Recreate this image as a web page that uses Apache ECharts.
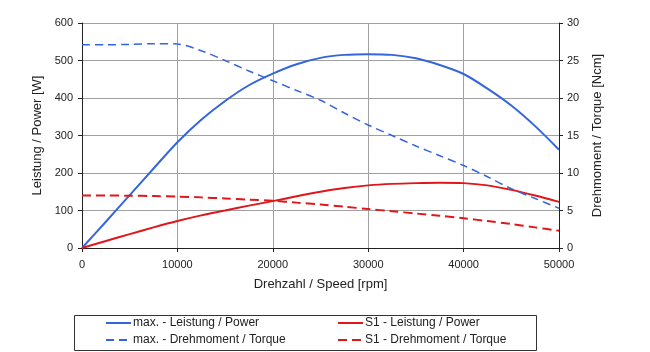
<!DOCTYPE html>
<html>
<head>
<meta charset="utf-8">
<script src="https://cdn.jsdelivr.net/npm/echarts@6/dist/echarts.min.js"></script>
<style>
  html, body { margin: 0; padding: 0; background: #fff; }
  #chart { width: 650px; height: 352px; }
</style>
</head>
<body>
<div id="chart"></div>
<script>
// Drehzahl in rpm
const speed = [0, 2500, 5000, 7500, 10000, 12500, 15000, 17500, 20000, 22500, 25000,
  27500, 30000, 32500, 35000, 37500, 40000, 42500, 45000, 47500, 50000];
// Leistung [W]
const maxPower = [0, 70, 141, 212, 282, 342, 392, 434, 465, 490, 507,
  515, 517, 515, 506, 488, 464, 425, 380, 325, 262];
const s1Power = [0, 18.5, 37, 55, 72, 87, 100, 113, 125, 138, 150,
  160, 167, 171, 173, 174, 173, 167, 155, 140, 123];
// Drehmoment [Ncm]
const maxTorque = [27.1, 27.1, 27.15, 27.25, 27.2, 26.3, 25.0, 23.6, 22.3, 21.0, 19.7,
  18.0, 16.4, 15.0, 13.6, 12.3, 11.0, 9.5, 7.9, 6.6, 5.3];
const s1Torque = [7.0, 7.0, 6.97, 6.93, 6.85, 6.75, 6.6, 6.45, 6.3, 6.05, 5.8,
  5.5, 5.2, 4.9, 4.6, 4.3, 3.96, 3.6, 3.2, 2.75, 2.3];

const names = ['max. - Leistung / Power', 'S1 - Leistung / Power',
  'max. - Drehmoment / Torque', 'S1 - Drehmoment / Torque'];

const blue = '#3565dc';
const red = '#e0161a';
const font = 'Liberation Sans, Arial, sans-serif';

const pairs = (ys) => speed.map((x, i) => [x, ys[i]]);

let myChart = echarts.init(document.getElementById('chart'));

let legendBase = {
  orient: 'vertical', top: 317, padding: 0, itemGap: 5,
  itemWidth: 25, itemHeight: 12, icon: 'inherit',
  itemStyle: { opacity: 0 },
  textStyle: { fontSize: 12, color: '#222', fontFamily: font, padding: [0, 0, 0, -3] }
};

let option = {
  animation: false,
  textStyle: { fontFamily: font },
  grid: { left: 82, right: 91, top: 23, bottom: 104 },
  xAxis: {
    type: 'value', min: 0, max: 50000, interval: 10000,
    name: 'Drehzahl / Speed [rpm]', nameLocation: 'middle', nameGap: 30,
    nameTextStyle: { fontSize: 13, color: '#222', fontFamily: font },
    axisLine: { lineStyle: { color: '#222' } },
    axisTick: { show: true, length: 4, lineStyle: { color: '#222' } },
    axisLabel: { fontSize: 11, color: '#222', margin: 11, fontFamily: font,
      formatter: (v) => String(v) },
    splitLine: { show: true, lineStyle: { color: '#a0a0a0', width: 1 } }
  },
  yAxis: [
    {
      type: 'value', min: 0, max: 600, interval: 100, position: 'left',
      name: 'Leistung / Power [W]', nameLocation: 'middle', nameGap: 35,
      nameTextStyle: { fontSize: 13, color: '#222', fontFamily: font },
      axisLine: { show: true, lineStyle: { color: '#222' } },
      axisTick: { show: true, length: 4, lineStyle: { color: '#222' } },
      axisLabel: { fontSize: 11, color: '#222', margin: 9, fontFamily: font },
      splitLine: { show: true, lineStyle: { color: '#a0a0a0', width: 1 } }
    },
    {
      type: 'value', min: 0, max: 30, interval: 5, position: 'right',
      name: 'Drehmoment / Torque [Ncm]', nameLocation: 'middle', nameGap: 32,
      nameTextStyle: { fontSize: 13, color: '#222', fontFamily: font },
      axisLine: { show: true, lineStyle: { color: '#222' } },
      axisTick: { show: true, length: 4, lineStyle: { color: '#222' } },
      axisLabel: { fontSize: 11, color: '#222', margin: 8, fontFamily: font },
      splitLine: { show: false }
    }
  ],
  legend: [
    Object.assign({}, legendBase, { left: 105, data: [names[0], names[2]] }),
    Object.assign({}, legendBase, { left: 337, data: [names[1], names[3]] })
  ],
  graphic: [
    {
      type: 'rect', left: 72, top: 313,
      shape: { width: 462, height: 35 },
      style: { fill: 'none', stroke: '#333', lineWidth: 1 }
    }
  ],
  series: [
    {
      name: names[0], type: 'line', yAxisIndex: 0, smooth: 0.3,
      symbol: 'none', color: blue,
      lineStyle: { color: blue, width: 2 },
      data: pairs(maxPower)
    },
    {
      name: names[1], type: 'line', yAxisIndex: 0, smooth: 0.3,
      symbol: 'none', color: red,
      lineStyle: { color: red, width: 2 },
      data: pairs(s1Power)
    },
    {
      name: names[2], type: 'line', yAxisIndex: 1, smooth: 0.3,
      symbol: 'none', color: blue,
      lineStyle: { color: blue, width: 1.5, type: [8, 5] },
      data: pairs(maxTorque)
    },
    {
      name: names[3], type: 'line', yAxisIndex: 1, smooth: 0.3,
      symbol: 'none', color: red,
      lineStyle: { color: red, width: 2, type: [9, 5] },
      data: pairs(s1Torque)
    }
  ]
};

option && myChart.setOption(option);
window.addEventListener('resize', myChart.resize);
</script>
</body>
</html>
